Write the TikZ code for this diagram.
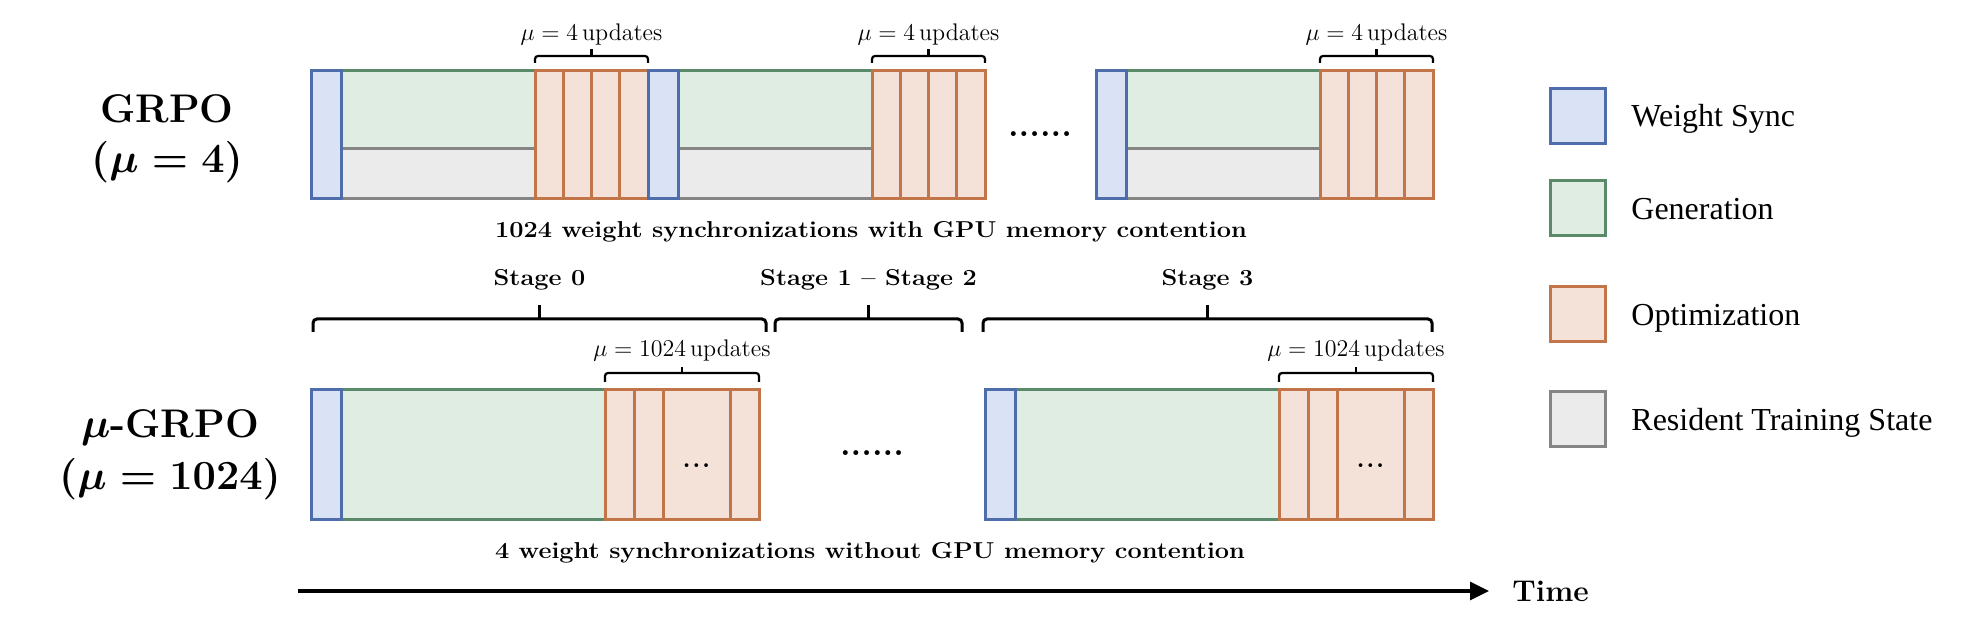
\documentclass[tikz,border=0pt]{standalone}
\usepackage{fontspec}
\newfontfamily\legfont{Liberation Serif}
\usetikzlibrary{positioning, arrows.meta, calc}
\definecolor{syncfill}{HTML}{DAE3F5}
\definecolor{syncline}{HTML}{4E6DAA}
\definecolor{genfill}{HTML}{DFEDE2}
\definecolor{genline}{HTML}{5A8A6A}
\definecolor{optfill}{HTML}{F4E1D7}
\definecolor{optline}{HTML}{C27548}
\definecolor{resfill}{HTML}{EBEBEB}
\definecolor{resline}{HTML}{858585}

% square bracket over a span: [style]{x1}{x2}{y line}{y arms}{y tip}
\newcommand{\overbrk}[6][brk]{%
  \draw[#1] ({#2},#5) |- ({#3},#4) -- ({#3},#5);
  \draw[#1] ({(#2+#3)/2},#4) -- ({(#2+#3)/2},#6);}
\newcommand{\widetxt}[1]{\scalebox{1.1}[1]{#1}}

\begin{document}
\begin{tikzpicture}[
  x=0.5pt, y=-0.5pt,
  sync/.style={fill=syncfill, draw=syncline, line width=1.5pt},
  gen/.style={fill=genfill, draw=genline, line width=1.5pt},
  opt/.style={fill=optfill, draw=optline, line width=1.5pt},
  res/.style={fill=resfill, draw=resline, line width=1.5pt},
  brk/.style={line width=1.1pt, rounded corners=1.5pt},
  stbrk/.style={line width=1.5pt, rounded corners=2pt},
  upd/.style={font=\fontsize{12}{14}\selectfont, anchor=base, inner sep=0pt},
  captxt/.style={font=\fontsize{11.5}{14}\selectfont\bfseries, anchor=base, inner sep=0pt},
  rowtitle/.style={font=\fontsize{20}{24}\selectfont\bfseries\boldmath,
                   anchor=base, inner sep=0pt},
  gap/.style={font=\fontsize{17}{20}\selectfont\bfseries},
  legbox/.style={minimum width=27.5pt, minimum height=27.5pt, inner sep=0pt},
  leg/.style={font=\legfont\fontsize{16}{19}\selectfont, inner sep=0pt,
              text height=10.6pt, text depth=0pt},
  arr/.style={-{Triangle[length=9.5pt, width=9pt]}, line width=1.7pt},
]
\path[fill=white, use as bounding box] (0,0) rectangle (1978,624);

% ─── GRPO row ────────────────────────────────────────────────────────────────
\node[rowtitle] (grpo) at (167,123) {GRPO};
\node[rowtitle] (grpomu) at (167,173) {$(\mu=4)$};

\foreach \s in {311, 648, 1096} {
  \draw[gen] ({\s+30},71) rectangle ({\s+224},149);
  \draw[res] ({\s+30},149) rectangle ({\s+224},199);
  \foreach \k in {0,...,3}
    \draw[opt] ({\s+224+28.25*\k},71) rectangle ({\s+252.25+28.25*\k},199);
  \draw[sync] (\s,71) rectangle ({\s+30},199);
  \overbrk{\s+224}{\s+337}{56}{63}{49}
  \node[upd] (upd-\s) at ({\s+280.5},41) {$\mu=4\,$updates};
}
\node[gap] (gap1) at (1040,134) {......};

\node[captxt] (cap1) at (871,238)
      {\widetxt{1024 weight synchronizations with GPU memory contention}};

% ─── stages ──────────────────────────────────────────────────────────────────
\overbrk[stbrk]{313}{766}{319}{332}{305}
\overbrk[stbrk]{775}{962}{319}{332}{305}
\overbrk[stbrk]{983}{1432}{319}{332}{305}
\node[captxt] (st0) at (539.5,286) {\widetxt{Stage 0}};
\node[captxt] (st12) at (868.5,286) {\widetxt{Stage 1 -- Stage 2}};
\node[captxt] (st3) at (1207.5,286) {\widetxt{Stage 3}};

% ─── mu-GRPO row ─────────────────────────────────────────────────────────────
\node[rowtitle] (mgrpo) at (170,438) {$\mu$-GRPO};
\node[rowtitle] (mgrpomu) at (170,490) {$(\mu=1024)$};

\foreach \s in {311, 985} {
  \draw[gen] ({\s+30},390) rectangle ({\s+294},520);
  \foreach \a/\b in {0/29, 29/58, 58/125, 125/154}
    \draw[opt] ({\s+294+\a},390) rectangle ({\s+294+\b},520);
  \draw[sync] (\s,390) rectangle ({\s+30},520);
  \node[font=\fontsize{13}{15}\selectfont\bfseries] (more-\s) at ({\s+385.5},466)
        {.\kern0.8pt.\kern0.8pt.};
  \overbrk{\s+294}{\s+448}{373}{382}{367}
  \node[upd] (mupd-\s) at ({\s+371},357) {$\mu=1024\,$updates};
}
\node[gap] (gap2) at (872,453) {......};

\node[captxt] (cap2) at (870,559)
      {\widetxt{4 weight synchronizations without GPU memory contention}};

% ─── time axis ───────────────────────────────────────────────────────────────
\coordinate (t0) at (298,591);
\node[font=\fontsize{15}{18}\selectfont\bfseries, anchor=base west, inner sep=0pt]
      (time) at (1512,602) {Time};
\draw[arr, shorten >=11.5pt] (t0) -- (t0 -| time.west);

% ─── legend ──────────────────────────────────────────────────────────────────
\node[sync, legbox] (lgsync) at (1578,116) {};
\node[gen, legbox] (lggen) at (1578,208.5) {};
\node[opt, legbox] (lgopt) at (1578,314.5) {};
\node[res, legbox] (lgres) at (1578,419.5) {};
\node[leg, right=12pt of lgsync] (lgsynct) {Weight Sync};
\node[leg, right=12pt of lggen] (lggent) {Generation};
\node[leg, right=12pt of lgopt] (lgoptt) {Optimization};
\node[leg, right=12pt of lgres] (lgrest) {Resident Training State};

\end{tikzpicture}
\end{document}
